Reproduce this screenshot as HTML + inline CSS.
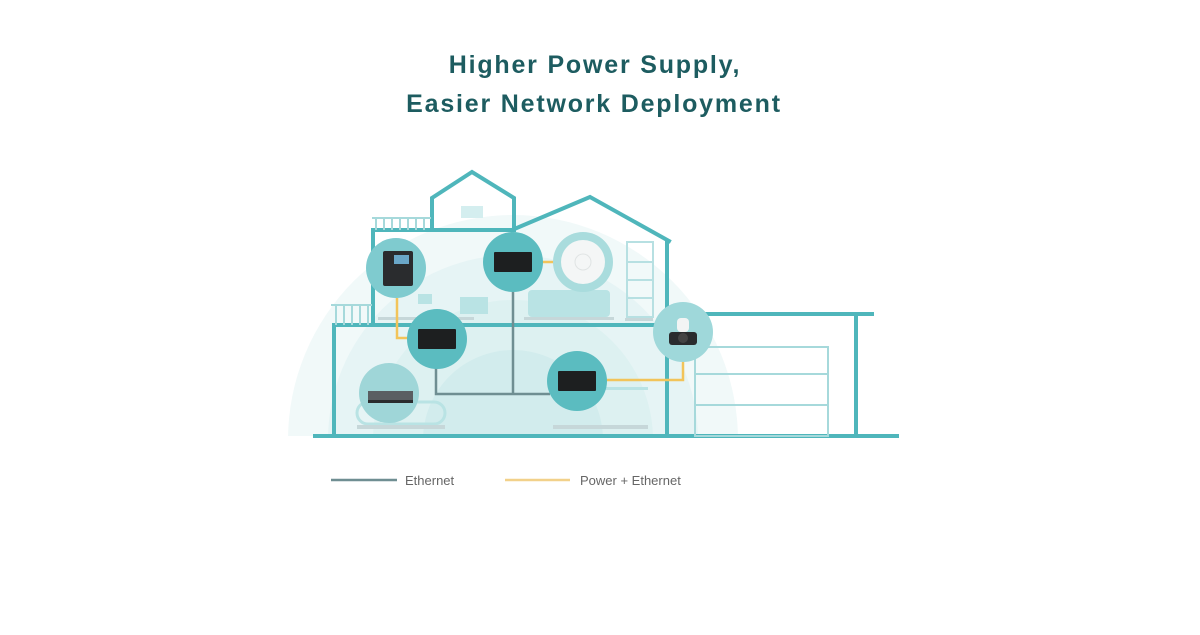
<!DOCTYPE html>
<html><head><meta charset="utf-8"><style>
body{margin:0;width:1200px;height:630px;background:#fff;overflow:hidden;font-family:"Liberation Sans",sans-serif}
</style></head><body>
<svg width="1200" height="630" viewBox="0 0 1200 630" xmlns="http://www.w3.org/2000/svg">
<text x="595" y="73" text-anchor="middle" font-family="Liberation Sans, sans-serif" font-size="25" font-weight="bold" letter-spacing="1.8" fill="#1d5c60">Higher Power Supply,</text>
<text x="594" y="112" text-anchor="middle" font-family="Liberation Sans, sans-serif" font-size="25" font-weight="bold" letter-spacing="1.8" fill="#1d5c60">Easier Network Deployment</text>

<clipPath id="c"><rect x="0" y="0" width="1200" height="436"/></clipPath>
<g clip-path="url(#c)">
<circle cx="513" cy="440" r="225" fill="#f1f9f9"/>
<circle cx="513" cy="440" r="185" fill="#e6f4f5"/>
<circle cx="513" cy="440" r="140" fill="#ddf1f1"/>
<circle cx="513" cy="440" r="90" fill="#d2eced"/>
</g>

<g stroke="#4fb6bb" stroke-width="4" fill="none" stroke-linecap="square">
<polyline points="432,230 432,198 472,172 514,198 514,230"/>
<polyline points="373,325 373,230 514,230"/>
<polyline points="512,230 590,197 669,241"/>
<line x1="667" y1="241" x2="667" y2="436"/>
<line x1="334" y1="325" x2="334" y2="436"/>
<line x1="334" y1="325" x2="667" y2="325"/>
<line x1="667" y1="314" x2="872" y2="314"/>
<line x1="856" y1="314" x2="856" y2="436"/>
<line x1="315" y1="436" x2="897" y2="436" stroke-width="4"/>
</g>
<g stroke="#a6d9db" stroke-width="2" fill="none">
<rect x="695" y="347" width="133" height="89"/>
<line x1="695" y1="374" x2="828" y2="374"/>
<line x1="695" y1="405" x2="828" y2="405"/>
<line x1="372" y1="218" x2="431" y2="218"/>
<line x1="331" y1="305" x2="372" y2="305"/>
</g>
<g stroke="#a6d9db" stroke-width="2">
<path d="M376 218V230M384 218V230M392 218V230M400 218V230M408 218V230M416 218V230M424 218V230"/>
<path d="M336 305V325M344 305V325M352 305V325M360 305V325M368 305V325"/>
</g>
<rect x="461" y="206" width="22" height="12" fill="#d4eeef"/>
<g stroke="#b7e0e2" stroke-width="2" fill="none"><rect x="627" y="242" width="26" height="75"/><line x1="627" y1="262" x2="653" y2="262"/><line x1="627" y1="280" x2="653" y2="280"/><line x1="627" y1="298" x2="653" y2="298"/></g>
<rect x="528" y="290" width="82" height="27" rx="4" fill="#b9e3e4"/>
<rect x="460" y="297" width="28" height="17" fill="#b9e3e4"/>
<rect x="418" y="294" width="14" height="10" fill="#b9e3e4"/>
<rect x="378" y="317" width="96" height="3" fill="#c6d7d9"/>
<rect x="524" y="317" width="90" height="3" fill="#c6d7d9"/>
<rect x="625" y="318" width="28" height="3" fill="#c6d7d9"/>
<rect x="357" y="402" width="88" height="22" rx="11" fill="none" stroke="#b9e3e4" stroke-width="3"/>
<rect x="357" y="425" width="88" height="4" fill="#c6d7d9"/>
<rect x="556" y="387" width="92" height="3" fill="#b9e3e4"/>
<rect x="553" y="425" width="95" height="4" fill="#c6d7d9"/>

<g stroke="#6f8e92" stroke-width="2.5" fill="none">
<line x1="513" y1="290" x2="513" y2="394"/>
<polyline points="436,368 436,394 550,394"/>
</g>
<g stroke="#f2c45a" stroke-width="2.5" fill="none">
<polyline points="397,298 397,338 408,338"/>
<line x1="542" y1="262" x2="554" y2="262"/>
<polyline points="606,380 683,380 683,360"/>
</g>

<circle cx="396" cy="268" r="30" fill="#7fcbcf"/>
<circle cx="583" cy="262" r="30" fill="#a9dcdd"/>
<circle cx="683" cy="332" r="30" fill="#9fd8da"/>
<circle cx="389" cy="393" r="30" fill="#9fd6d8"/>
<circle cx="513" cy="262" r="30" fill="#5bbcc0"/>
<circle cx="437" cy="339" r="30" fill="#5bbcc0"/>
<circle cx="577" cy="381" r="30" fill="#5bbcc0"/>

<rect x="494" y="252" width="38" height="20" rx="1" fill="#1d1f20"/>
<rect x="418" y="329" width="38" height="20" rx="1" fill="#1d1f20"/>
<rect x="558" y="371" width="38" height="20" rx="1" fill="#1d1f20"/>
<circle cx="583" cy="262" r="22" fill="#f4f6f6"/>
<circle cx="583" cy="262" r="8" fill="none" stroke="#e0e4e4"/>
<rect x="383" y="251" width="30" height="35" rx="2" fill="#2a2c2e"/>
<rect x="394" y="255" width="15" height="9" fill="#6aa7c8"/>
<rect x="368" y="391" width="45" height="9" fill="#5a5e62"/>
<rect x="368" y="400" width="45" height="3" fill="#2a2c2e"/>
<rect x="677" y="318" width="12" height="14" rx="4" fill="#f2f4f4"/>
<rect x="669" y="332" width="28" height="13" rx="3" fill="#2a2c2e"/>
<circle cx="683" cy="338" r="5" fill="#444"/>

<line x1="331" y1="480" x2="397" y2="480" stroke="#6f8e92" stroke-width="2.5"/>
<text x="405" y="485" font-family="Liberation Sans, sans-serif" font-size="13" fill="#666">Ethernet</text>
<line x1="505" y1="480" x2="570" y2="480" stroke="#f2d18a" stroke-width="2.5"/>
<text x="580" y="485" font-family="Liberation Sans, sans-serif" font-size="13" fill="#666">Power + Ethernet</text>
</svg>
</body></html>
